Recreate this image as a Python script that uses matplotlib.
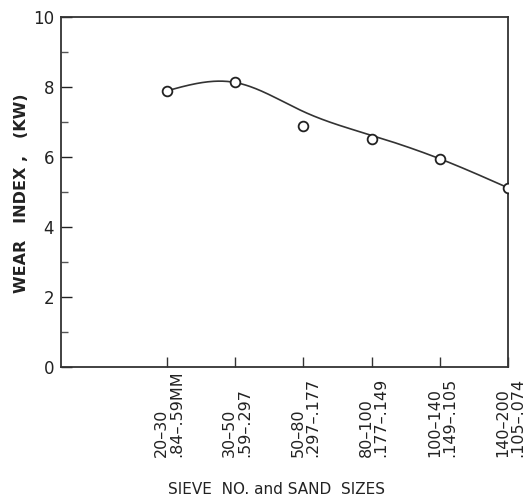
import numpy as np
import matplotlib
matplotlib.use("Agg")
import matplotlib.pyplot as plt
from matplotlib.transforms import blended_transform_factory

sieve_labels = ["20–30\n.84–.59MM", "30–50\n.59–.297", "50–80\n.297–.177",
                "80–100\n.177–.149", "100–140\n.149–.105", "140–200\n.105–.074"]
wear_index = [7.89, 8.13, 6.89, 6.51, 5.93, 5.12]
# smoothed curve drawn through the data (knot values of the faired curve)
curve_knots = [7.89, 8.13, 7.30, 6.62, 5.95, 5.12]

def natural_spline(x, y, xs):
    x = np.asarray(x, float); y = np.asarray(y, float)
    n = len(x)
    h = np.diff(x)
    A = np.zeros((n, n)); b = np.zeros(n)
    A[0, 0] = 1; A[-1, -1] = 1
    for i in range(1, n - 1):
        A[i, i - 1] = h[i - 1]
        A[i, i] = 2 * (h[i - 1] + h[i])
        A[i, i + 1] = h[i]
        b[i] = 6 * ((y[i + 1] - y[i]) / h[i] - (y[i] - y[i - 1]) / h[i - 1])
    M = np.linalg.solve(A, b)
    out = np.empty_like(xs)
    for k, xv in enumerate(xs):
        i = min(np.searchsorted(x, xv) - 1, n - 2)
        i = max(i, 0)
        t1 = x[i + 1] - xv; t0 = xv - x[i]
        out[k] = (M[i] * t1**3 + M[i + 1] * t0**3) / (6 * h[i]) \
            + (y[i] / h[i] - M[i] * h[i] / 6) * t1 \
            + (y[i + 1] / h[i] - M[i + 1] * h[i] / 6) * t0
    return out

plt.rcParams['font.family'] = ['DejaVu Sans']
fig = plt.figure(figsize=(5.26, 5.00), dpi=100)
ax = fig.add_axes([61/526, 133/500, (508-61)/526, (367-17)/500])

pos = np.arange(len(sieve_labels))
xs = np.linspace(0, len(pos) - 1, 300)
ax.plot(xs, natural_spline(pos, curve_knots, xs), color='#333333', lw=1.2)
ax.plot(pos, wear_index, 'o', ms=7, mfc='white', mec='#222222', mew=1.3, zorder=3)

ax.set_xlim(-1.55, 5)
ax.set_ylim(0, 10)
ax.set_yticks(np.arange(0, 11, 2))
ax.set_yticklabels([str(v) for v in range(0, 11, 2)], fontsize=12)
ax.set_yticks(np.arange(1, 10, 2), minor=True)
ax.set_xticks(pos)
ax.set_xticklabels([])
ax.tick_params(axis='y', which='major', direction='in', length=8, width=1, pad=5, colors='#222222')
ax.tick_params(axis='y', which='minor', direction='in', length=5, width=1, colors='#555555')
ax.tick_params(axis='x', which='major', direction='in', length=7, width=1, colors='#333333')
for s in ax.spines.values():
    s.set_linewidth(1.3)
    s.set_color('#333333')

trans = blended_transform_factory(ax.transData, ax.transAxes)
for p, lab in zip(pos, sieve_labels):
    ax.text(p + 0.03, -0.258, lab, transform=trans, rotation=90, ha='center', va='bottom',
            multialignment='left', fontsize=11.5, linespacing=1.0, color='#222222')

fig.text(276/526, 1 - 490/500, "SIEVE  NO. and SAND  SIZES", ha='center', va='center',
         fontsize=11, color='#222222')
fig.text(22/526, 1 - 193/500, "WEAR   INDEX ,   (KW)", ha='center', va='center',
         rotation=90, fontsize=11.5, fontweight='bold', color='#222222')

fig.savefig("out.png", dpi=100)
